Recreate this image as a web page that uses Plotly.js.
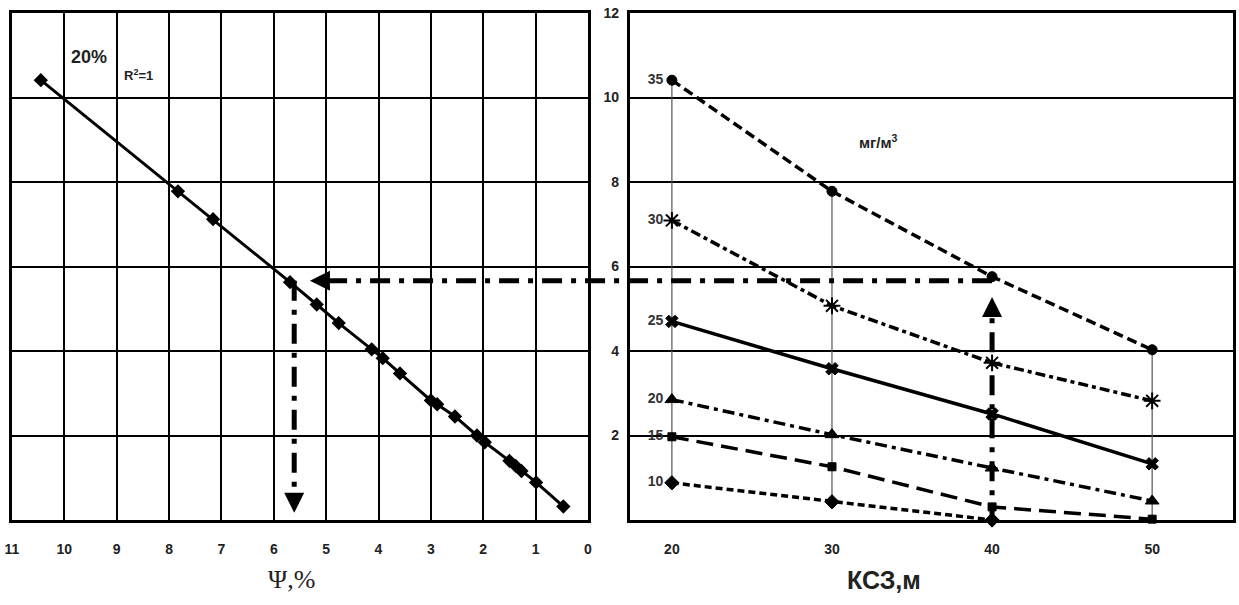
<!DOCTYPE html>
<html><head><meta charset="utf-8">
<script src="https://cdn.plot.ly/plotly-3.0.1.min.js"></script>
<style>html,body{margin:0;padding:0;background:#fff}#chart{width:1239px;height:605px}</style>
</head><body><div id="chart"></div>
<script>
// ---------- Right panel: concentration (мг/м³) vs КСЗ (м), one line per Ψ level ----------
const ksz   = [20, 30, 40, 50];
const c35   = [10.41, 7.78, 5.76, 4.03];
const c30   = [7.09, 5.07, 3.72, 2.82];
const c25   = [4.70, 3.58, 2.51, 1.33];
const c20   = [2.85, 2.02, 1.23, 0.45];
const c15   = [1.97, 1.26, 0.31, 0.02];
const ksz10 = [20, 30, 40];
const c10   = [0.88, 0.43, 0.0];
const levelLabels = ['35', '30', '25', '20', '15', '10'];
const dropX = [20, 30, 50];

// ---------- Left panel: Ψ (%) vs concentration, 20% line ----------
const psi  = [10.45, 7.83, 7.16, 5.69, 5.18, 4.76, 4.13, 3.92, 3.59, 3.00, 2.88, 2.54, 2.12, 1.97, 1.50, 1.38, 1.27, 0.99, 0.47];
const conc = [10.41, 7.78, 7.12, 5.63, 5.10, 4.66, 4.04, 3.83, 3.47, 2.83, 2.74, 2.45, 2.00, 1.84, 1.40, 1.28, 1.16, 0.89, 0.32];

// ---------- Ticks ----------
const psiTicks = [0, 1, 2, 3, 4, 5, 6, 7, 8, 9, 10, 11];
const concTicks = [2, 4, 6, 8, 10, 12];
const kszTicks = [20, 30, 40, 50];

// ---------- Read-out (worked example) ----------
const readKsz = 40;          // КСЗ, м
const readLevel = 5.66;      // мг/м³
const readPsi = 5.61;        // Ψ, %
const hArrowTipPsi = 5.31;
const downArrowTipLevel = 0.17;
const upArrowTipLevel = 5.28;
const upArrowStart = -0.10;

const FONT = 'Liberation Sans, Arial, sans-serif';
const domL = [0, 0.4717];
const domR = [0.5061, 1];
const rangeL = [11, 0];
const rangeR = [17.38, 55.05];
const rangeY = [0, 12];

function xp(v, dom, rng) { return dom[0] + (v - rng[0]) / (rng[1] - rng[0]) * (dom[1] - dom[0]); }
function yp(v) { return (v - rangeY[0]) / (rangeY[1] - rangeY[0]); }

function series(x, y, name, dash, symbol, size, extra) {
  return Object.assign({
    type: 'scatter', mode: 'lines+markers', x: x, y: y, name: name,
    xaxis: 'x2', yaxis: 'y2', cliponaxis: false,
    line: {color: '#000', width: 3.5, dash: dash},
    marker: {symbol: symbol, size: size, color: '#000', line: {color: '#000', width: 1}},
    hoverinfo: 'x+y', showlegend: false
  }, extra || {});
}

// drop lines (thin) from highest to lowest value at each КСЗ
const allSeries = [[ksz, c35], [ksz, c30], [ksz, c25], [ksz, c20], [ksz, c15], [ksz10, c10]];
const dropXs = [], dropYs = [];
dropX.forEach(xv => {
  const vals = [];
  allSeries.forEach(([xs, ys]) => { const i = xs.indexOf(xv); if (i >= 0) vals.push(ys[i]); });
  dropXs.push(xv, xv, null);
  dropYs.push(Math.max(...vals), Math.min(...vals), null);
});

const traces = [
  {type: 'scatter', mode: 'lines', x: dropXs, y: dropYs, xaxis: 'x2', yaxis: 'y2',
   line: {color: '#555', width: 1.2}, hoverinfo: 'skip', showlegend: false},
  {type: 'scatter', mode: 'lines+markers', x: psi, y: conc, xaxis: 'x', yaxis: 'y',
   line: {color: '#000', width: 3}, marker: {symbol: 'diamond', size: 11, color: '#000'},
   showlegend: false, name: '20%'},
  series(ksz, c35, levelLabels[0], '10px,5px', 'circle', 10),
  series(ksz, c30, levelLabels[1], '10px,4px,4px,4px', 'asterisk-open', 14, {marker: {symbol: 'asterisk-open', size: 14, color: '#000', line: {color: '#000', width: 2}}}),
  series(ksz, c25, levelLabels[2], 'solid', 'x', 11),
  series(ksz, c20, levelLabels[3], '12px,5px,4px,5px', 'triangle-up', 12),
  series(ksz, c15, levelLabels[4], '17px,8px', 'square', 8),
  series(ksz10, c10, levelLabels[5], '7px,4px', 'diamond', 11),
  // level labels next to the first point of each line
  {type: 'scatter', mode: 'markers+text', xaxis: 'x2', yaxis: 'y2', cliponaxis: false,
   x: allSeries.map(s => s[0][0]), y: allSeries.map(s => s[1][0]), text: levelLabels,
   marker: {size: 12, color: 'rgba(0,0,0,0)'},
   textposition: 'middle left', hoverinfo: 'skip', showlegend: false,
   textfont: {family: FONT, size: 14, color: '#333', weight: 'bold'}}
];

const arrowLine = {color: '#000', width: 5, dash: '20px,9px,5px,9px'};
const shapes = [
  // horizontal read-out line across both panels
  {type: 'line', xref: 'paper', yref: 'paper', layer: 'above',
   x0: xp(readKsz, domR, rangeR), x1: xp(hArrowTipPsi, domL, rangeL) + 0.012,
   y0: yp(readLevel), y1: yp(readLevel), line: arrowLine},
  // vertical read-out in the left panel
  {type: 'line', xref: 'x', yref: 'y', layer: 'above', x0: readPsi, x1: readPsi,
   y0: readLevel, y1: downArrowTipLevel + 0.4, line: arrowLine},
  // vertical read-out in the right panel
  {type: 'line', xref: 'x2', yref: 'y2', layer: 'above', x0: readKsz, x1: readKsz,
   y0: upArrowStart, y1: upArrowTipLevel - 0.4, line: arrowLine},
  // arrowheads
  {type: 'path', xref: 'x', yref: 'y', xsizemode: 'pixel', ysizemode: 'pixel',
   xanchor: hArrowTipPsi, yanchor: readLevel, path: 'M0,0 L20,10 L20,-10 Z',
   fillcolor: '#000', line: {width: 0}, layer: 'above'},
  {type: 'path', xref: 'x', yref: 'y', xsizemode: 'pixel', ysizemode: 'pixel',
   xanchor: readPsi, yanchor: downArrowTipLevel, path: 'M0,0 L-10,20 L10,20 Z',
   fillcolor: '#000', line: {width: 0}, layer: 'above'},
  {type: 'path', xref: 'x2', yref: 'y2', xsizemode: 'pixel', ysizemode: 'pixel',
   xanchor: readKsz, yanchor: upArrowTipLevel, path: 'M0,0 L-10,-20 L10,-20 Z',
   fillcolor: '#000', line: {width: 0}, layer: 'above'}
];

function note(text, x, y, font) {
  return {text: text, xref: 'paper', yref: 'paper', x: x, y: y, showarrow: false,
          xanchor: 'center', yanchor: 'middle', font: font};
}
const annotations = [
  note('20%', 0.0631, 0.913, {family: FONT, size: 18, color: '#222', weight: 'bold'}),
  note('R<sup>2</sup>=1', 0.1032, 0.878, {family: FONT, size: 13, color: '#222', weight: 'bold'}),
  note('мг/м<sup>3</sup>', 0.7093, 0.746, {family: FONT, size: 15, color: '#222', weight: 'bold'}),
  note('Ψ,%', 0.2293, -0.118, {family: 'Liberation Serif, Times New Roman, serif', size: 26, color: '#222'}),
  note('КСЗ,м', 0.714, -0.118, {family: FONT, size: 25, color: '#222', weight: 'bold'})
];

const tickFont = {family: FONT, size: 14, color: '#222', weight: 'bold'};
const layout = {
  width: 1239, height: 605,
  margin: {l: 12, r: 6, t: 13, b: 85},
  paper_bgcolor: '#fff', plot_bgcolor: '#fff',
  showlegend: false,
  xaxis: {domain: domL, range: rangeL, tickvals: psiTicks, ticktext: psiTicks.map(String),
          showgrid: true, gridcolor: '#000', gridwidth: 2, zeroline: false,
          showline: true, mirror: true, linecolor: '#000', linewidth: 3,
          ticks: '', ticklabelstandoff: 14, tickfont: tickFont, anchor: 'y'},
  yaxis: {domain: [0, 1], range: rangeY, tickvals: concTicks, showticklabels: false,
          showgrid: true, gridcolor: '#000', gridwidth: 2, zeroline: false,
          showline: true, mirror: true, linecolor: '#000', linewidth: 3, ticks: '', anchor: 'x'},
  xaxis2: {domain: domR, range: rangeR, tickvals: kszTicks, ticktext: kszTicks.map(String),
           showgrid: false, zeroline: false,
           showline: true, mirror: true, linecolor: '#000', linewidth: 3,
           ticks: '', ticklabelstandoff: 14, tickfont: tickFont, anchor: 'y2', layer: 'below traces'},
  yaxis2: {domain: [0, 1], range: rangeY, tickvals: concTicks, ticktext: concTicks.map(String),
           showgrid: true, gridcolor: '#000', gridwidth: 2, zeroline: false,
           showline: true, mirror: true, linecolor: '#000', linewidth: 3,
           ticks: '', ticklabelstandoff: 5, tickfont: tickFont, anchor: 'x2', layer: 'below traces'},
  shapes: shapes,
  annotations: annotations
};

Plotly.newPlot('chart', traces, layout, {displayModeBar: false, staticPlot: true});
</script>
</body></html>
